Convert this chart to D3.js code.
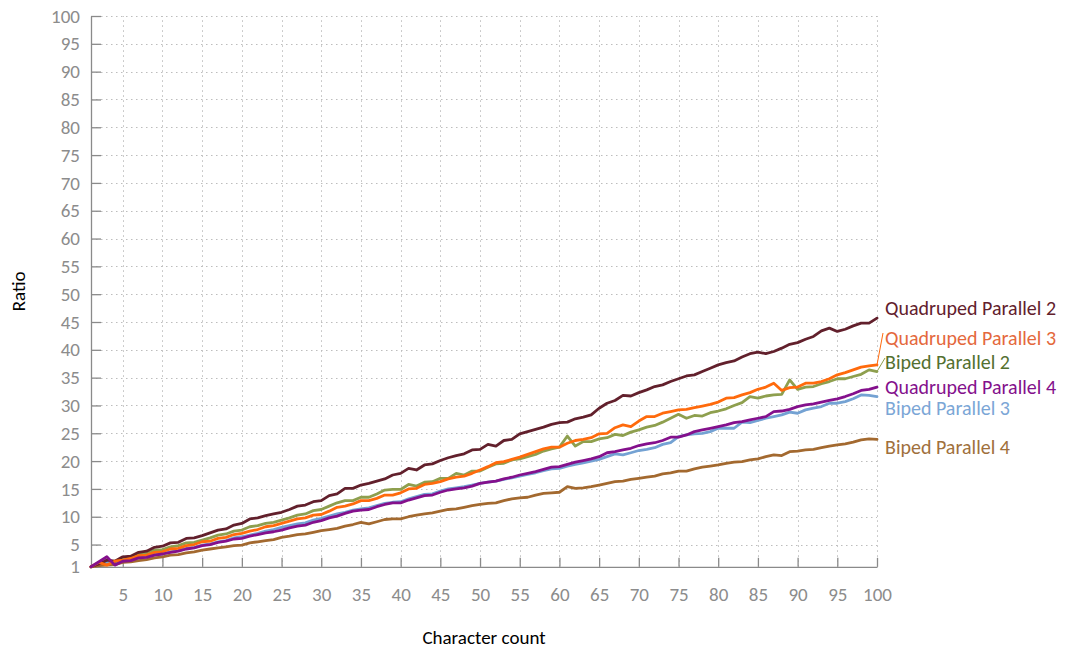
<!DOCTYPE html>
<html><head><meta charset="utf-8">
<script src="https://cdn.jsdelivr.net/npm/d3@7"></script>
<style>body{margin:0;background:#fff} svg{display:block}</style>
</head><body><svg id="c" width="1065" height="650"></svg>
<script>
// ---------- data ----------
const characterCount = d3.range(1, 101);
const quadrupedParallel2 = [1.0,1.5,2.2,2.0,2.8,2.9,3.6,3.8,4.5,4.7,5.3,5.4,6.1,6.2,6.6,7.1,7.6,7.8,8.5,8.8,9.6,9.8,10.2,10.5,10.8,11.3,11.9,12.1,12.7,12.9,13.8,14.1,15.1,15.1,15.7,16.0,16.4,16.8,17.5,17.8,18.7,18.4,19.3,19.5,20.1,20.6,21.0,21.3,22.0,22.1,23.0,22.7,23.7,23.9,24.9,25.3,25.7,26.1,26.6,26.9,27.0,27.6,27.9,28.3,29.5,30.4,30.9,31.8,31.7,32.3,32.8,33.4,33.7,34.3,34.8,35.3,35.5,36.1,36.7,37.3,37.7,38.0,38.7,39.3,39.6,39.3,39.7,40.3,41.0,41.3,41.9,42.4,43.4,43.9,43.3,43.7,44.3,44.8,44.8,45.7];
const quadrupedParallel3 = [1.0,1.8,1.3,2.0,2.2,2.5,3.0,3.1,3.6,3.7,4.2,4.3,4.8,5.0,5.5,5.6,6.1,6.3,6.8,7.0,7.4,7.7,8.2,8.4,8.8,9.2,9.6,9.8,10.3,10.4,11.0,11.7,11.9,12.3,12.9,12.9,13.3,13.9,13.9,14.3,15.0,15.1,15.8,16.0,16.3,16.8,17.1,17.3,17.8,18.4,19.0,19.7,19.9,20.3,20.7,21.2,21.7,22.2,22.5,22.5,23.2,23.7,23.9,24.2,24.9,25.0,26.0,26.5,26.2,27.2,28.0,28.0,28.6,28.9,29.2,29.3,29.6,29.9,30.2,30.6,31.3,31.4,31.9,32.3,32.9,33.3,34.0,32.7,33.2,33.3,34.0,34.0,34.3,34.8,35.5,35.9,36.4,36.9,37.1,37.3];
const bipedParallel2 = [1.0,1.5,1.6,2.0,2.5,2.7,3.3,3.4,4.0,4.1,4.6,4.8,5.3,5.4,5.8,6.2,6.7,6.9,7.4,7.6,8.2,8.4,8.8,9.0,9.4,9.8,10.3,10.5,11.1,11.3,11.9,12.5,12.9,12.9,13.5,13.5,14.1,14.8,14.9,14.9,15.8,15.5,16.2,16.3,16.9,16.9,17.8,17.5,18.2,18.2,18.9,19.5,19.6,20.2,20.4,20.8,21.2,21.8,22.2,22.5,24.5,22.7,23.5,23.5,24.0,24.2,24.8,24.6,25.2,25.6,26.1,26.4,27.0,27.7,28.4,27.7,28.2,28.1,28.7,29.0,29.4,30.0,30.5,31.6,31.3,31.7,31.9,32.0,34.6,32.9,33.3,33.4,33.9,34.3,34.8,34.8,35.2,35.6,36.4,36.1];
const quadrupedParallel4 = [1.0,1.9,2.8,1.3,2.0,2.1,2.6,2.7,3.1,3.3,3.6,3.8,4.2,4.4,4.8,5.0,5.4,5.6,6.0,6.1,6.5,6.8,7.1,7.3,7.6,8.0,8.3,8.5,9.0,9.3,9.8,10.1,10.6,11.0,11.2,11.3,11.8,12.2,12.5,12.5,13.0,13.4,13.8,13.9,14.4,14.8,15.0,15.2,15.5,16.0,16.2,16.4,16.8,17.1,17.5,17.8,18.1,18.5,18.9,19.0,19.4,19.8,20.1,20.4,20.8,21.5,21.7,22.0,22.3,22.8,23.1,23.3,23.7,24.3,24.3,24.7,25.3,25.6,25.9,26.2,26.5,26.9,27.1,27.4,27.7,28.0,28.9,29.0,29.3,29.8,30.1,30.3,30.6,30.9,31.2,31.6,32.1,32.7,32.9,33.3];
const bipedParallel3 = [1.0,1.4,1.8,1.6,2.1,2.3,2.7,2.8,3.2,3.3,3.7,3.9,4.3,4.5,4.9,5.1,5.5,5.7,6.2,6.4,6.7,7.0,7.4,7.7,8.1,8.4,8.7,8.9,9.4,9.7,10.1,10.5,10.8,11.2,11.4,11.6,12.0,12.4,12.6,12.7,13.2,13.6,14.0,14.1,14.6,15.0,15.2,15.4,15.7,16.0,16.2,16.4,16.7,17.0,17.3,17.6,17.9,18.3,18.6,18.7,19.1,19.4,19.7,20.0,20.3,20.8,21.3,21.1,21.5,21.9,22.1,22.4,23.0,23.3,24.4,24.7,24.9,25.0,25.3,25.9,25.9,25.9,27.0,26.9,27.3,27.7,28.0,28.3,28.8,28.6,29.2,29.5,29.8,30.4,30.4,30.7,31.2,31.9,31.8,31.6];
const bipedParallel4 = [1.0,1.2,1.3,1.4,1.8,1.9,2.1,2.3,2.6,2.8,3.1,3.2,3.5,3.7,4.0,4.2,4.4,4.6,4.8,4.9,5.3,5.5,5.7,5.9,6.3,6.5,6.8,6.9,7.2,7.5,7.7,7.9,8.3,8.6,9.0,8.7,9.1,9.5,9.6,9.6,10.0,10.3,10.5,10.7,11.0,11.3,11.4,11.7,12.0,12.2,12.4,12.5,12.9,13.2,13.4,13.5,13.9,14.2,14.3,14.4,15.4,15.1,15.2,15.4,15.7,16.0,16.3,16.4,16.7,16.9,17.1,17.3,17.7,17.9,18.2,18.2,18.6,18.9,19.1,19.3,19.6,19.8,19.9,20.2,20.4,20.8,21.1,21.0,21.7,21.8,22.0,22.1,22.4,22.7,22.9,23.1,23.4,23.8,24.0,23.9];

const seriesNames = ["Biped Parallel 2","Biped Parallel 3","Biped Parallel 4","Quadruped Parallel 2","Quadruped Parallel 3","Quadruped Parallel 4"];
const seriesValues = [bipedParallel2, bipedParallel3, bipedParallel4, quadrupedParallel2, quadrupedParallel3, quadrupedParallel4];
const yTickValues = [1,5,10,15,20,25,30,35,40,45,50,55,60,65,70,75,80,85,90,95,100];
const xTickValues = [5,10,15,20,25,30,35,40,45,50,55,60,65,70,75,80,85,90,95,100];
const xTitle = "Character count";
const yTitle = "Ratio";

// ---------- styles / layout ----------
const lineColors  = {"Biped Parallel 2":"#8E9F4E","Biped Parallel 3":"#74A2D3","Biped Parallel 4":"#A3692F",
                     "Quadruped Parallel 2":"#62202C","Quadruped Parallel 3":"#FF6A0C","Quadruped Parallel 4":"#84108C"};
const labelColors = {"Biped Parallel 2":"#537030","Biped Parallel 3":"#7BA6D6","Biped Parallel 4":"#A0703C",
                     "Quadruped Parallel 2":"#62202C","Quadruped Parallel 3":"#E4683C","Quadruped Parallel 4":"#84108C"};
const labelY = {"Quadruped Parallel 2":308,"Quadruped Parallel 3":338,"Biped Parallel 2":362,
                "Quadruped Parallel 4":387,"Biped Parallel 3":408,"Biped Parallel 4":447};
const leader = {"Quadruped Parallel 3":[883,333],"Biped Parallel 2":[885,358]};
const FONT = "Carlito, Calibri, Lato, sans-serif";
const axisColor = "#8A8A8A";

const svg = d3.select("#c");
const x = d3.scaleLinear().domain([1,100]).range([91,877]);
const y = d3.scaleLinear().domain([1,100]).range([566.8,16]);

// grid
const grid = svg.append("g").attr("stroke","#BDBDBD").attr("stroke-width",1).attr("stroke-dasharray","1.5,3.5");
grid.selectAll(".h").data(yTickValues.filter(v=>v!==1)).join("line")
  .attr("x1",x(1)).attr("x2",x(100)).attr("y1",d=>Math.round(y(d))+0.5).attr("y2",d=>Math.round(y(d))+0.5);
grid.selectAll(".v").data(xTickValues).join("line")
  .attr("y1",y(1)).attr("y2",y(100)).attr("x1",d=>Math.round(x(d))+0.5).attr("x2",d=>Math.round(x(d))+0.5);

// axes
const yAxis = svg.append("g").attr("transform",`translate(${x(1)},0)`)
  .call(d3.axisLeft(y).tickValues(yTickValues).tickSizeInner(-10).tickSizeOuter(0).tickPadding(11));
const xAxis = svg.append("g").attr("transform",`translate(0,${y(1)})`)
  .call(d3.axisBottom(x).tickValues(xTickValues).tickSizeInner(-9).tickSizeOuter(0).tickPadding(21));
[xAxis,yAxis].forEach(a=>{
  a.selectAll("path,line").attr("stroke",axisColor).attr("stroke-width",1.3);
  a.selectAll("text").attr("fill","#8C8C8C").style("font-family",FONT).style("font-size","19px");
});

// lines
const line = d3.line().x((d,i)=>x(characterCount[i])).y(d=>y(d));
svg.append("g").selectAll("path").data(seriesNames).join("path")
  .attr("d",(n,i)=>line(seriesValues[i]))
  .attr("fill","none").attr("stroke",n=>lineColors[n]).attr("stroke-width",2.8)
  .attr("stroke-linejoin","round").attr("stroke-linecap","round");

// leader lines & labels
seriesNames.forEach((n,i)=>{
  const vals = seriesValues[i];
  const ex = x(characterCount[characterCount.length-1]), ey = y(vals[vals.length-1]);
  if (leader[n]) {
    svg.append("line").attr("x1",ex).attr("y1",ey).attr("x2",leader[n][0]).attr("y2",leader[n][1])
      .attr("stroke",lineColors[n]).attr("stroke-width",1);
  }
  svg.append("text").attr("x",885).attr("y",labelY[n]).attr("dy","0.35em")
    .attr("fill",labelColors[n]).style("font-family",FONT).style("font-size","20px").text(n);
});

// titles
svg.append("text").attr("x",(x(1)+x(100))/2).attr("y",637).attr("dy","0.35em").attr("text-anchor","middle")
  .style("font-family",FONT).style("font-size","19px").attr("fill","#000").text(xTitle);
svg.append("text").attr("transform",`translate(18,${(y(1)+y(100))/2}) rotate(-90)`).attr("dy","0.35em")
  .attr("text-anchor","middle").style("font-family",FONT).style("font-size","19px").attr("fill","#000").text(yTitle);
</script></body></html>
